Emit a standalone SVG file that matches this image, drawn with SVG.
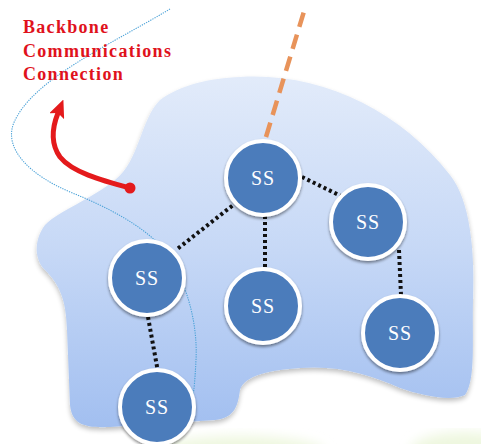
<svg xmlns="http://www.w3.org/2000/svg" width="481" height="444" viewBox="0 0 481 444">
<defs>
<linearGradient id="blobG" x1="0" y1="0" x2="0" y2="1">
<stop offset="0" stop-color="#e2ebfa"/>
<stop offset="0.5" stop-color="#c6d8f6"/>
<stop offset="1" stop-color="#a2bff0"/>
</linearGradient>
<filter id="soft" x="-10%" y="-10%" width="120%" height="130%">
<feGaussianBlur in="SourceAlpha" stdDeviation="2.5"/>
<feOffset dy="3"/>
<feComponentTransfer><feFuncA type="linear" slope="0.25"/></feComponentTransfer>
<feMerge><feMergeNode/><feMergeNode in="SourceGraphic"/></feMerge>
</filter>
<filter id="nshadow" x="-20%" y="-20%" width="140%" height="140%">
<feGaussianBlur in="SourceAlpha" stdDeviation="1.8"/>
<feOffset dx="0" dy="1.5"/>
<feComponentTransfer><feFuncA type="linear" slope="0.45"/></feComponentTransfer>
<feMerge><feMergeNode/><feMergeNode in="SourceGraphic"/></feMerge>
</filter>
<filter id="gblur"><feGaussianBlur stdDeviation="6"/></filter>
<marker id="redHead" markerWidth="3.6" markerHeight="3.2" refX="0.7" refY="1.6" orient="auto" markerUnits="strokeWidth">
<path d="M0,0 L3.6,1.6 L0,3.2 L0.7,1.6 Z" fill="#e41a1c"/>
</marker>
<style>
.node circle{fill:#4b7bbb;stroke:#ffffff;stroke-width:4;filter:url(#nshadow);}
.node text{font-family:"Liberation Serif","Times New Roman",serif;font-size:20px;fill:#ffffff;text-anchor:middle;letter-spacing:1px;}
.dot{stroke:#111111;stroke-width:4;stroke-dasharray:3 3;fill:none;}
.lbl{font-family:"Liberation Serif","Times New Roman",serif;font-weight:bold;font-size:18px;fill:#e0121c;letter-spacing:1.3px;}
</style>
</defs>
<rect width="481" height="444" fill="#ffffff"/>
<g id="greenTint" filter="url(#gblur)">
<ellipse cx="240" cy="452" rx="85" ry="16" fill="#eef7df"/>
<ellipse cx="465" cy="452" rx="55" ry="20" fill="#eef7df"/>
</g>
<g id="cloud">
<path filter="url(#soft)" fill="url(#blobG)" d="M240,77 C320,72 400,110 450,175 C470,200 475,250 473,300 C472,340 476,380 465,395 C450,402 420,395 400,388 C370,375 340,365 300,368 C270,370 245,375 240,390 C238,405 235,418 215,420 L110,427 C85,428 72,425 70,405 L67,330 C66,300 60,285 45,270 C33,258 35,238 45,225 C60,210 90,200 115,180 C140,160 140,120 160,100 C180,85 210,78 240,77 Z"/>
</g>
<g id="boundary">
<path d="M170,9 C110,45 30,80 13,125 C5,150 30,175 70,192 C110,208 140,225 160,245 C185,275 198,320 196,360 C195,380 194,390 193,395" fill="none" stroke="#4da3d8" stroke-width="1.1" stroke-dasharray="1.3 1.1"/>
</g>
<g id="connectors">
<line class="dot" x1="302" y1="177" x2="343" y2="197"/>
<line class="dot" x1="237" y1="202" x2="176" y2="250"/>
<line class="dot" x1="265" y1="216" x2="265" y2="268"/>
<line class="dot" x1="399" y1="250" x2="401" y2="295"/>
<line class="dot" x1="148" y1="317" x2="158" y2="372"/>
<line x1="266" y1="137" x2="305" y2="8" stroke="#e8935a" stroke-width="4.5" stroke-dasharray="15 8"/>
<path d="M130,188 C100,180 72,172 60,157 C50,143 52,128 58,113" fill="none" stroke="#e41a1c" stroke-width="5" stroke-linecap="round" marker-end="url(#redHead)"/>
<circle cx="130" cy="188" r="5.5" fill="#e41a1c"/>
</g>
<g id="label">
<text class="lbl" x="23" y="33">Backbone</text>
<text class="lbl" x="23" y="56.5">Communications</text>
<text class="lbl" x="23" y="80">Connection</text>
</g>
<g id="ss-top" class="node"><circle cx="263" cy="178" r="37"/><text x="263" y="185">SS</text></g>
<g id="ss-right" class="node"><circle cx="368" cy="222" r="37"/><text x="368" y="229">SS</text></g>
<g id="ss-left" class="node"><circle cx="147" cy="278" r="37"/><text x="147" y="285">SS</text></g>
<g id="ss-middle" class="node"><circle cx="263" cy="306" r="37"/><text x="263" y="313">SS</text></g>
<g id="ss-bottomright" class="node"><circle cx="400" cy="333" r="37"/><text x="400" y="340">SS</text></g>
<g id="ss-bottom" class="node"><circle cx="157" cy="407" r="37"/><text x="157" y="414">SS</text></g>
</svg>
